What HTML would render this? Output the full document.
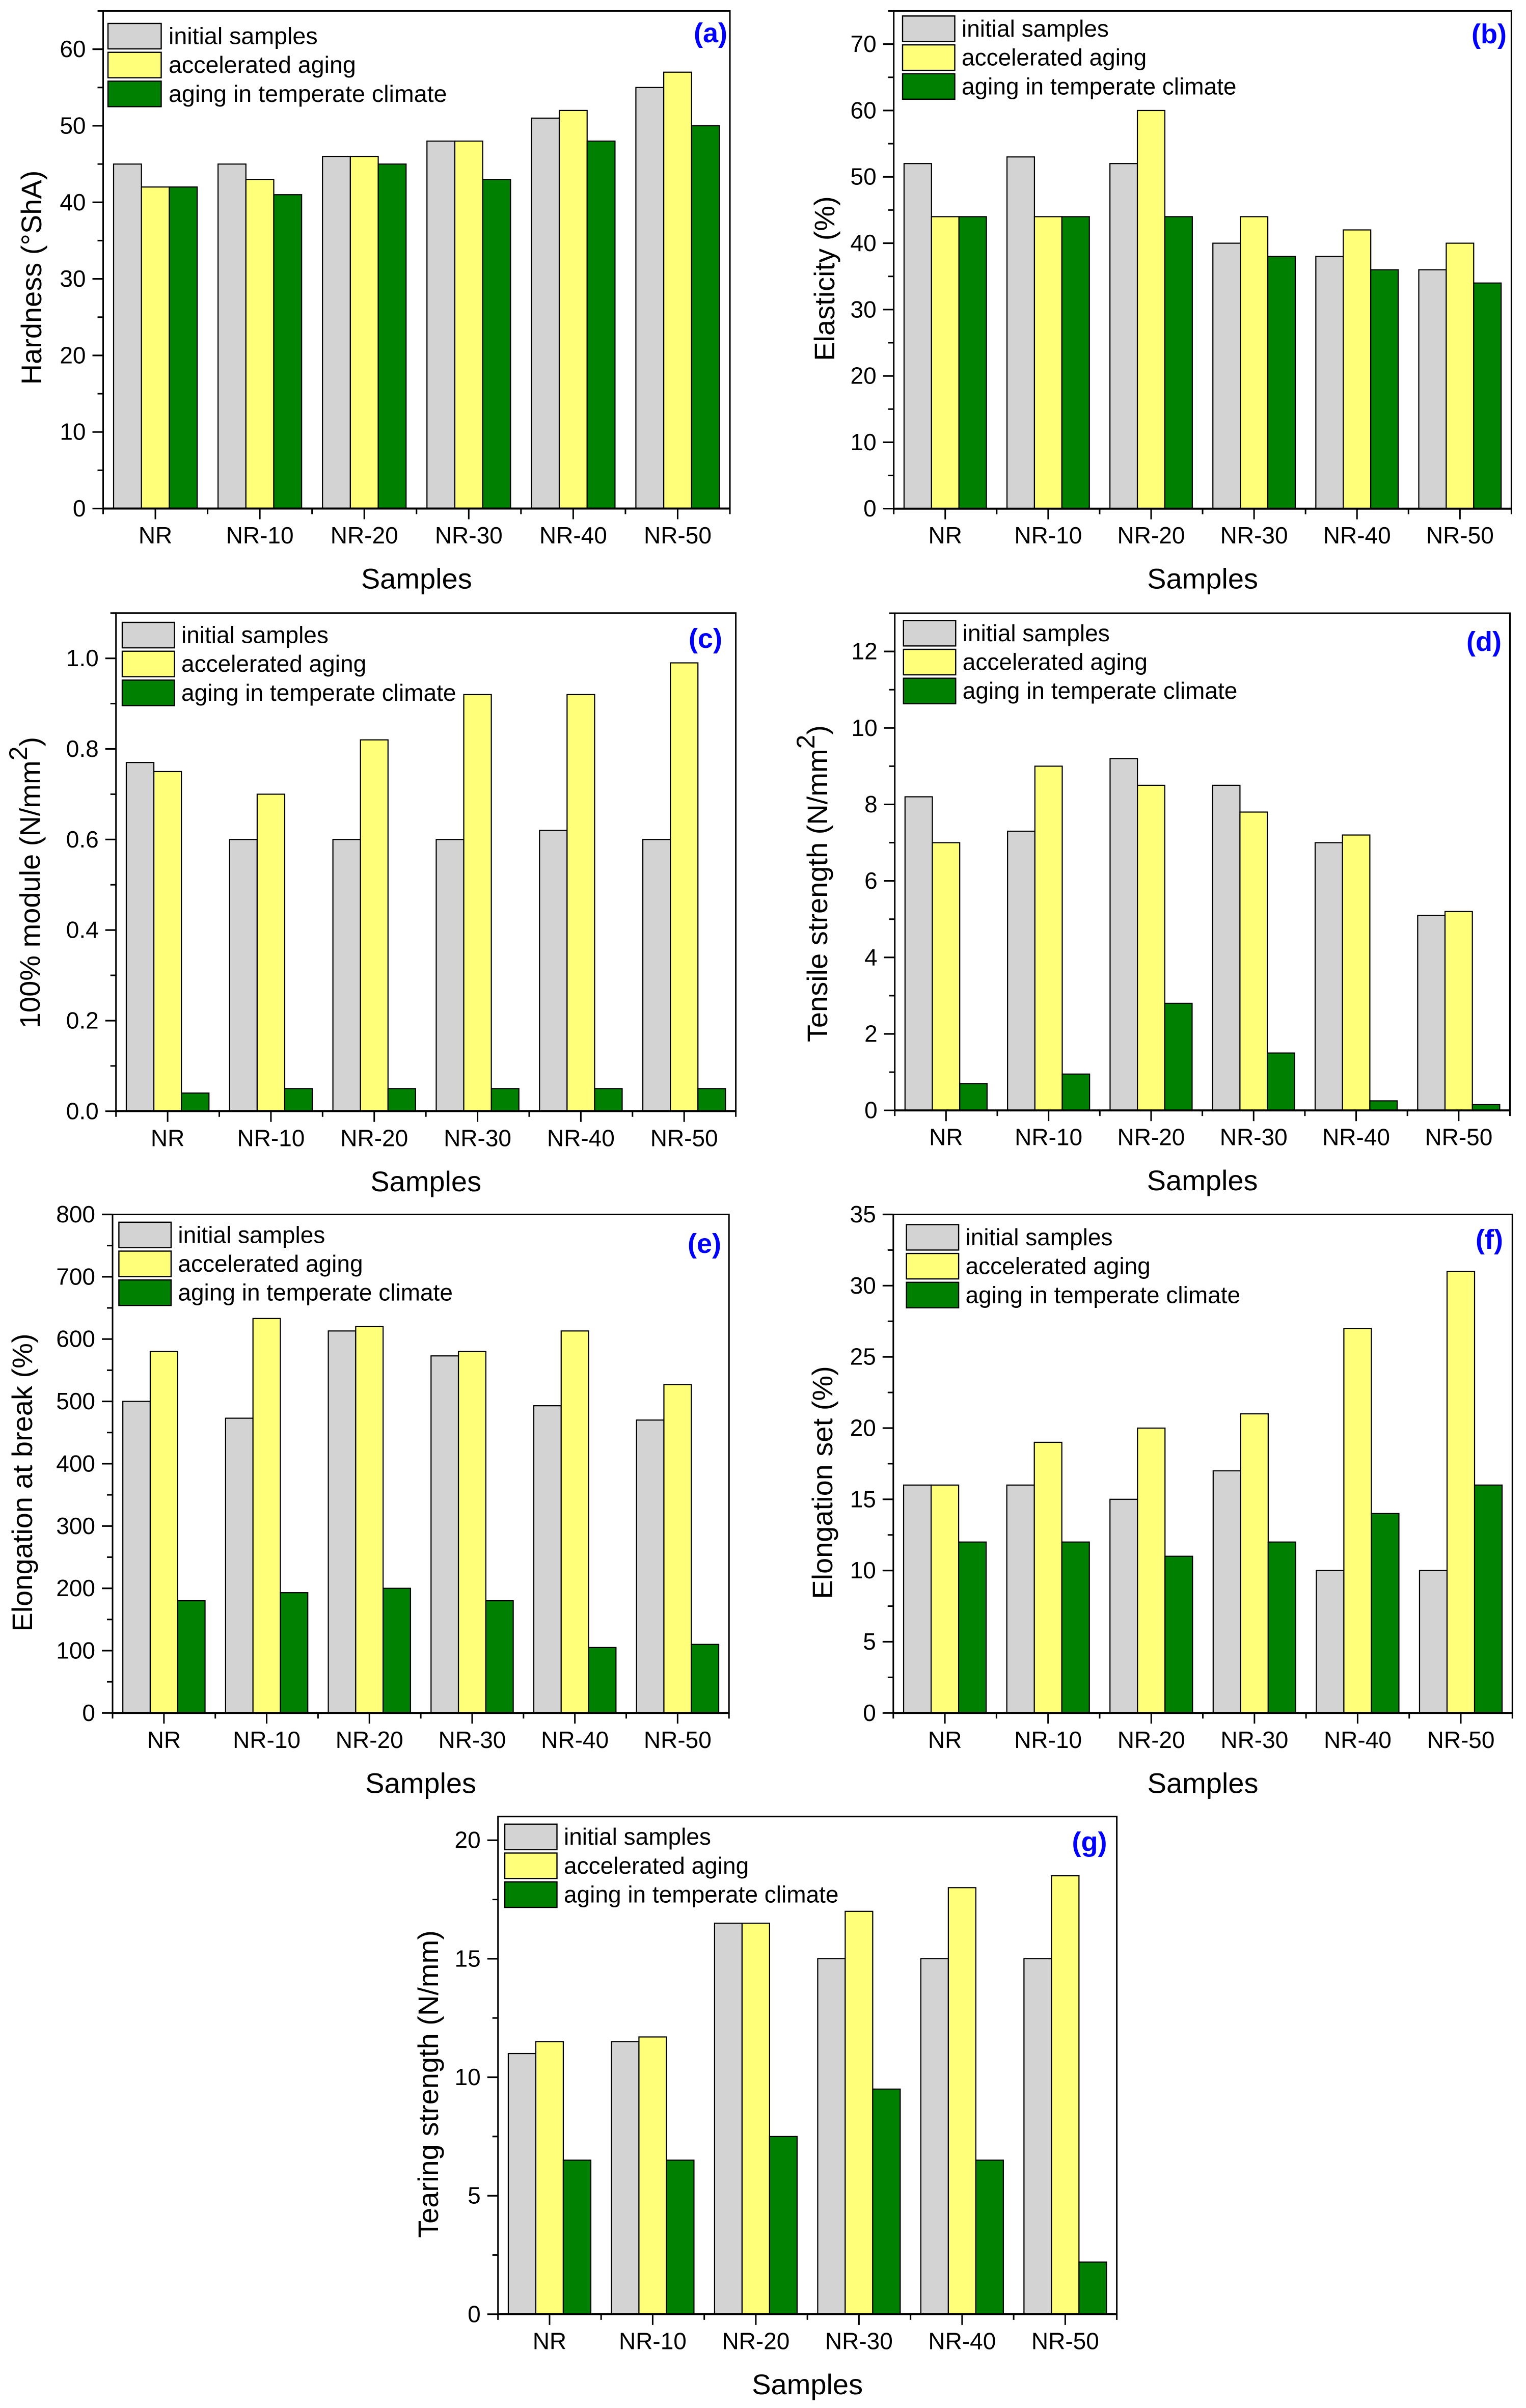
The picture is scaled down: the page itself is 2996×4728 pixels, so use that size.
<!DOCTYPE html>
<html lang="en">
<head>
<meta charset="utf-8">
<title>Rubber sample properties under aging</title>
<style>
html,body{margin:0;padding:0;background:#fff;width:2996px;height:4728px;overflow:hidden}
svg{display:block}
text{font-family:"Liberation Sans",Arial,sans-serif;fill:#000}
</style>
</head>
<body>
<svg id="figure" xmlns="http://www.w3.org/2000/svg" width="2996" height="4728" viewBox="0 0 2996 4728"></svg>
<script>
const categories = ['NR', 'NR-10', 'NR-20', 'NR-30', 'NR-40', 'NR-50'];
const seriesNames = ['initial samples', 'accelerated aging', 'aging in temperate climate'];

const hardnessInitial = [45, 45, 46, 48, 51, 55];
const hardnessAccelerated = [42, 43, 46, 48, 52, 57];
const hardnessTemperate = [42, 41, 45, 43, 48, 50];
const hardnessTicks = ['0', '10', '20', '30', '40', '50', '60'];

const elasticityInitial = [52, 53, 52, 40, 38, 36];
const elasticityAccelerated = [44, 44, 60, 44, 42, 40];
const elasticityTemperate = [44, 44, 44, 38, 36, 34];
const elasticityTicks = ['0', '10', '20', '30', '40', '50', '60', '70'];

const moduleInitial = [0.77, 0.6, 0.6, 0.6, 0.62, 0.6];
const moduleAccelerated = [0.75, 0.7, 0.82, 0.92, 0.92, 0.99];
const moduleTemperate = [0.04, 0.05, 0.05, 0.05, 0.05, 0.05];
const moduleTicks = ['0.0', '0.2', '0.4', '0.6', '0.8', '1.0'];

const tensileInitial = [8.2, 7.3, 9.2, 8.5, 7, 5.1];
const tensileAccelerated = [7, 9, 8.5, 7.8, 7.2, 5.2];
const tensileTemperate = [0.7, 0.95, 2.8, 1.5, 0.25, 0.15];
const tensileTicks = ['0', '2', '4', '6', '8', '10', '12'];

const breakInitial = [500, 473, 613, 573, 493, 470];
const breakAccelerated = [580, 633, 620, 580, 613, 527];
const breakTemperate = [180, 193, 200, 180, 105, 110];
const breakTicks = ['0', '100', '200', '300', '400', '500', '600', '700', '800'];

const setInitial = [16, 16, 15, 17, 10, 10];
const setAccelerated = [16, 19, 20, 21, 27, 31];
const setTemperate = [12, 12, 11, 12, 14, 16];
const setTicks = ['0', '5', '10', '15', '20', '25', '30', '35'];

const tearInitial = [11, 11.5, 16.5, 15, 15, 15];
const tearAccelerated = [11.5, 11.7, 16.5, 17, 18, 18.5];
const tearTemperate = [6.5, 6.5, 7.5, 9.5, 6.5, 2.2];
const tearTicks = ['0', '5', '10', '15', '20'];

const panels = [
  {tag:'(a)', title:'Hardness (°ShA)', series:[hardnessInitial,hardnessAccelerated,hardnessTemperate], ticks:hardnessTicks, ymax:65,
   left:202.5,right:1433,top:21.5,bottom:998.5,titleX:81,titleY:545,legX:212,legY:46,legW:104.5,legGap:119,legFont:46.6,tagX:1428,tagY:83},
  {tag:'(b)', title:'Elasticity (%)', series:[elasticityInitial,elasticityAccelerated,elasticityTemperate], ticks:elasticityTicks, ymax:75,
   left:1754.7,right:2967.4,top:21.5,bottom:998.7,titleX:1638,titleY:547,legX:1772,legY:31.4,legW:102.5,legGap:116,legFont:46,tagX:2958,tagY:85},
  {tag:'(c)', title:'100% module (N/mm', sup:true, series:[moduleInitial,moduleAccelerated,moduleTemperate], ticks:moduleTicks, ymax:1.1,
   left:227.7,right:1444.6,top:1203.7,bottom:2181.8,titleX:78,titleY:1733,legX:240,legY:1222,legW:102.5,legGap:116,legFont:46,tagX:1418,tagY:1272},
  {tag:'(d)', title:'Tensile strength (N/mm', sup:true, series:[tensileInitial,tensileAccelerated,tensileTemperate], ticks:tensileTicks, ymax:13,
   left:1756.7,right:2964.5,top:1204,bottom:2180.2,titleX:1624,titleY:1735,legX:1773.8,legY:1218.3,legW:102.5,legGap:116,legFont:46,tagX:2948,tagY:1278},
  {tag:'(e)', title:'Elongation at break (%)', series:[breakInitial,breakAccelerated,breakTemperate], ticks:breakTicks, ymax:800,
   left:221,right:1431.2,top:2384.5,bottom:3363.3,titleX:63,titleY:2911,legX:233.4,legY:2399.8,legW:102.5,legGap:116,legFont:46,tagX:1416,tagY:2460},
  {tag:'(f)', title:'Elongation set (%)', series:[setInitial,setAccelerated,setTemperate], ticks:setTicks, ymax:35,
   left:1753.8,right:2969.3,top:2384.5,bottom:3363.3,titleX:1634,titleY:2911,legX:1779.6,legY:2404.4,legW:102.5,legGap:116,legFont:46,tagX:2951,tagY:2452},
  {tag:'(g)', title:'Tearing strength (N/mm)', series:[tearInitial,tearAccelerated,tearTemperate], ticks:tearTicks, ymax:21,
   left:977.7,right:2192.6,top:3566.7,bottom:4543.9,titleX:860,titleY:4092,legX:991,legY:3581.7,legW:102.5,legGap:116,legFont:46,tagX:2173.5,tagY:3635}
];

const fills = ['#D3D3D3', '#FFFF7A', '#008000'];
const NS = 'http://www.w3.org/2000/svg';
const figure = document.getElementById('figure');

function make(parent, type, attrs, content) {
  const node = document.createElementNS(NS, type);
  for (const key in attrs) node.setAttribute(key, attrs[key]);
  if (content !== undefined) node.textContent = content;
  parent.appendChild(node);
  return node;
}
function yPos(p, v) { return p.bottom - (v / p.ymax) * (p.bottom - p.top); }
function slotWidth(p) { return (p.right - p.left) / categories.length; }
function xCenter(p, i) { return p.left + (i + 0.5) * slotWidth(p); }

panels.forEach(function (p) {
  const group = make(figure, 'g', {});
  
  

  // bars
  const barWidth = slotWidth(p) * 0.8 / p.series.length;
  categories.forEach(function (cat, i) {
    p.series.forEach(function (values, s) {
      const y = yPos(p, values[i]);
      const x = xCenter(p, i) + (s - p.series.length / 2) * barWidth;
      const bar = make(group, 'rect', {x:x, y:y, width:barWidth, height:p.bottom - y, fill:fills[s], stroke:'#000', 'stroke-width':2.2});
      
      
    });
  });

  // frame
  const frame = make(group, 'rect', {x:p.left, y:p.top, width:p.right - p.left, height:p.bottom - p.top, fill:'none', stroke:'#000', 'stroke-width':3});
  
  
  const baseline = make(group, 'line', {x1:p.left, x2:p.right, y1:p.bottom, y2:p.bottom, stroke:'#000', 'stroke-width':4});
  
  

  // y ticks
  const majorStep = parseFloat(p.ticks[1]) - parseFloat(p.ticks[0]);
  p.ticks.forEach(function (label) {
    const v = parseFloat(label);
    const y = yPos(p, v);
    const tick = make(group, 'line', {x1:p.left - 21, x2:p.left, y1:y, y2:y, stroke:'#000', 'stroke-width':3.2});
    
    
    const text = make(group, 'text', {x:p.left - 34, y:y + 15.5, 'font-size':46, 'text-anchor':'end'}, label);
    
    
  });
  for (let k = 0.5; k * majorStep <= p.ymax + 1e-9; k += 1) {
    const y = yPos(p, k * majorStep);
    const minor = make(group, 'line', {x1:p.left - 11, x2:p.left, y1:y, y2:y, stroke:'#000', 'stroke-width':3});
    
    
  }

  // x ticks
  categories.forEach(function (cat, i) {
    const x = xCenter(p, i);
    const tick = make(group, 'line', {x1:x, x2:x, y1:p.bottom, y2:p.bottom + 21, stroke:'#000', 'stroke-width':3});
    
    
    const text = make(group, 'text', {x:x, y:p.bottom + 68.5, 'font-size':46, 'text-anchor':'middle'}, cat);
    
    
  });
  for (let i = 0; i <= categories.length; i++) {
    const x = p.left + i * slotWidth(p);
    const minor = make(group, 'line', {x1:x, x2:x, y1:p.bottom, y2:p.bottom + 11, stroke:'#000', 'stroke-width':3});
    
    
  }

  // axis titles
  const xTitle = make(group, 'text', {x:(p.left + p.right) / 2, y:p.bottom + 157, 'font-size':56, 'text-anchor':'middle'}, 'Samples');
  
  

  const yTitle = make(group, 'text', {transform:'translate(' + p.titleX + ' ' + p.titleY + ') rotate(-90)', 'font-size':56, 'text-anchor':'middle'}, p.title);
  
  
  if (p.sup) {
    make(yTitle, 'tspan', {'font-size':50, dy:-25}, '2');
    make(yTitle, 'tspan', {dy:25}, ')');
  }

  // legend
  const legend = make(group, 'g', {});
  
  
  seriesNames.forEach(function (name, s) {
    const top = p.legY + s * 56.7;
    const swatch = make(legend, 'rect', {x:p.legX, y:top, width:p.legW, height:50, fill:fills[s], stroke:'#000', 'stroke-width':2.4});
    
    
    const label = make(legend, 'text', {x:p.legX + p.legGap, y:top + 40.5, 'font-size':p.legFont}, name);
    
    
  });

  // panel letter
  const tag = make(group, 'text', {x:p.tagX, y:p.tagY, 'font-size':54, 'font-weight':'bold', 'text-anchor':'end', style:'fill:#0000FF'}, p.tag);
  
  
});
</script>
</body>
</html>
